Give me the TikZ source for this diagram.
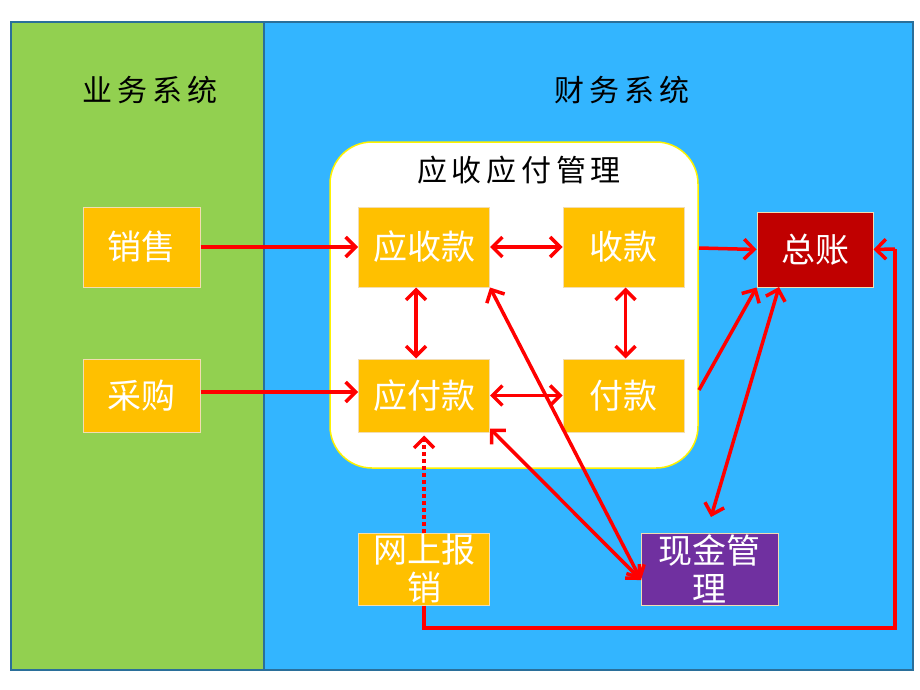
\documentclass[tikz,border=0pt]{standalone}
\usepackage{fontspec}
\newfontfamily\cjk{Noto Sans CJK SC}
\newfontfamily\cjkls[LetterSpace=16]{Noto Sans CJK SC}
\usetikzlibrary{arrows.meta}
\definecolor{bizgreen}{HTML}{92D050}
\definecolor{finblue}{HTML}{33B5FF}
\definecolor{framecol}{HTML}{2A6F9A}
\definecolor{gold}{HTML}{FFC000}
\definecolor{glred}{HTML}{C00000}
\definecolor{cashpurple}{HTML}{7030A0}
\definecolor{boxline}{HTML}{F2DDB2}
\begin{document}
\begin{tikzpicture}[x=1pt,y=-1pt,
  box/.style={draw=boxline, line width=1pt, fill=gold, text=white, inner sep=0pt,
    font=\cjk\fontsize{34}{38}\selectfont, align=center},
  title/.style={font=\cjkls\fontsize{30}{32}\selectfont, text=black},
  conn/.style={draw=red, line width=3.5pt, -{Straight Barb[length=10pt,width=20pt,line width=3.5pt]}},
  bconn/.style={draw=red, line width=3.5pt, {Straight Barb[length=10pt,width=20pt,line width=3.5pt]}-{Straight Barb[length=10pt,width=20pt,line width=3.5pt]}},
  pconn/.style={draw=red, line width=3.5pt},
  dconn/.style={draw=red, line width=3.5pt, dash pattern=on 4pt off 3pt, -{Straight Barb[length=10pt,width=20pt,line width=3.5pt]}}]
\useasboundingbox (0,0) rectangle (920,690);
\fill[white] (0,0) rectangle (920,690);
% panels
\fill[bizgreen] (11,22) rectangle (264,670);
\fill[finblue] (264,22) rectangle (913,670);
\draw[framecol, line width=1.5pt] (11,22) rectangle (913,670);
\draw[framecol, line width=1.5pt] (264,22) -- (264,670);
\node[title] (tbiz) at (150,90) {业务系统};
\node[title] (tfin) at (622,90) {财务系统};
% white group box
\node[draw=yellow, line width=1.5pt, fill=white, rounded corners=42pt,
  minimum width=368pt, minimum height=326pt] (arap) at (514,305) {};
\node[title] (tarap) at (519,170) {应收应付管理};
% boxes
\node[box, minimum width=117pt, minimum height=80pt] (sale) at (141.5,247) {销售};
\node[box, minimum width=117pt, minimum height=73pt] (buy) at (141.5,395.5) {采购};
\node[box, minimum width=131pt, minimum height=80pt] (ar) at (424,247) {应收款};
\node[box, minimum width=121pt, minimum height=80pt] (rec) at (623.5,247) {收款};
\node[box, minimum width=131pt, minimum height=73pt] (ap) at (424,395.5) {应付款};
\node[box, minimum width=121pt, minimum height=73pt] (pay) at (623.5,395.5) {付款};
\node[box, fill=glred, minimum width=116pt, minimum height=75pt] (gl) at (815,249.5) {总账};
\node[box, minimum width=131pt, minimum height=72pt] (exp) at (424,569) {网上报\\销};
\node[box, fill=cashpurple, minimum width=137pt, minimum height=72pt] (cash) at (709.5,569) {现金管\\理};
% helper coordinates
\coordinate (recout) at (699,248);
\coordinate (payout) at (699,390);
\coordinate (cashtop) at (711,517);
\coordinate (cashin) at (641,580);
\coordinate (c1) at (424,628);
\coordinate (c2) at (895,628);
\coordinate (c3) at (895,249);
\coordinate (glbl) at (779,287);
% connectors
\draw[conn] (sale.east) -- (ar.west);
\draw[conn] (buy.east |- 0,392) -- (ap.west |- 0,392);
\draw[bconn] (ar.east) -- (rec.west);
\draw[bconn] (ap.east) -- (pay.west);
\draw[bconn] ([xshift=-8pt]ar.south) -- ([xshift=-8pt]ap.north);
\draw[bconn] ([xshift=2pt]rec.south) -- ([xshift=2pt]pay.north);
\draw[conn] (recout) -- (gl.west);
\draw[conn] (payout) -- (gl.south west);
\draw[bconn] (glbl) -- (cashtop);
\draw[bconn] (ar.south east) -- (cashin);
\draw[bconn] ([yshift=4pt]ap.south east) -- (cashin);
\draw[dconn] (exp.north) -- ([yshift=-3pt]ap.south);
\draw[pconn] (exp.south) -- (c1) -- (c2) -- (c3);
\draw[conn] (c3) -- (gl.east);
\end{tikzpicture}
\end{document}
